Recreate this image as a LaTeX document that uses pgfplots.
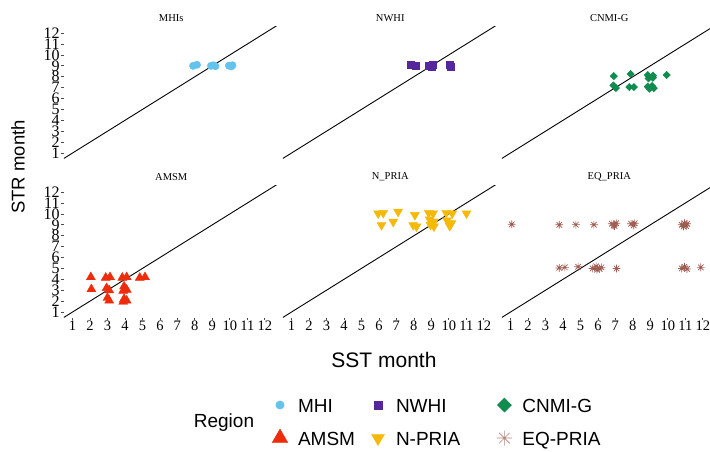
\documentclass[border=0pt]{standalone}
\usepackage{fontspec}
\setmainfont{Liberation Serif}
\newfontfamily\sansf{Liberation Sans}
\usepackage{pgfplots}
\pgfplotsset{compat=1.18}
\definecolor{mhi}{HTML}{64C3EC}
\definecolor{nwhi}{HTML}{55279A}
\definecolor{cnmi}{HTML}{118C4F}
\definecolor{amsm}{HTML}{EE2C0C}
\definecolor{npria}{HTML}{F5B90A}
\definecolor{eqpria}{HTML}{9E5B50}
\pgfdeclareplotmark{ast8}{%
 \pgfpathmoveto{\pgfqpoint{0pt}{\pgfplotmarksize}}\pgfpathlineto{\pgfqpoint{0pt}{-\pgfplotmarksize}}%
 \pgfpathmoveto{\pgfqpoint{\pgfplotmarksize}{0pt}}\pgfpathlineto{\pgfqpoint{-\pgfplotmarksize}{0pt}}%
 \pgfpathmoveto{\pgfqpoint{.7071\pgfplotmarksize}{.7071\pgfplotmarksize}}\pgfpathlineto{\pgfqpoint{-.7071\pgfplotmarksize}{-.7071\pgfplotmarksize}}%
 \pgfpathmoveto{\pgfqpoint{.7071\pgfplotmarksize}{-.7071\pgfplotmarksize}}\pgfpathlineto{\pgfqpoint{-.7071\pgfplotmarksize}{.7071\pgfplotmarksize}}%
 \pgfusepathqstroke}
\tikzset{ttl/.style={font=\fontsize{10.5}{10.5}\selectfont, yshift=8.5pt}}
\pgfplotsset{
 panel/.style={scale only axis, width=215pt, height=131.9pt,
  xmin=0.5, xmax=12.8, ymin=0.5, ymax=12.6,
  axis line style={draw=none}, anchor=south west,
  xtick=\empty, ytick=\empty, tick align=outside, major tick length=2.5pt,
  tick style={line width=0.7pt, black!70}, tick pos=left,
  /pgf/number format/assume math mode=true, clip mode=individual},
 leftcol/.style={ytick={1,...,12}, yticklabel style={font=\fontsize{16}{16}\selectfont, inner sep=1.5pt}},
 bottomrow/.style={xtick={1,...,12}, xticklabel style={font=\fontsize{14.5}{14.5}\selectfont, inner sep=1pt}},
 diag/.style={black, line width=0.9pt, no marks},
}
\begin{document}
\begin{tikzpicture}
\useasboundingbox (0,0) rectangle (710pt,451pt);
% ---------- MHIs
\begin{axis}[panel, leftcol, at={(63.75pt,292.5pt)}]
\addplot[diag] coordinates {(0,0) (13,13)};
\addplot[only marks, mark=*, mark size=3.7pt, mhi] coordinates {
(7.9,9.0) (8.12,9.1) (8.92,9.0) (9.05,9.05) (9.18,8.97) (9.95,9.02) (10.08,8.95) (10.15,9.05)};
\node[ttl] at (rel axis cs:0.5,1) {MHIs};
\end{axis}
% ---------- NWHI
\begin{axis}[panel, at={(282.75pt,292.5pt)}]
\addplot[diag] coordinates {(0,0) (13,13)};
\addplot[only marks, mark=square*, mark size=3.5pt, nwhi] coordinates {
(7.82,9.1) (8.1,9.0) (8.85,9.05) (9.1,9.1) (9.0,8.95) (10.03,9.1) (10.08,8.95)};
\node[ttl] at (rel axis cs:0.5,1) {NWHI};
\end{axis}
% ---------- CNMI-G
\begin{axis}[panel, at={(501.75pt,292.5pt)}]
\addplot[diag] coordinates {(0,0) (13,13)};
\addplot[only marks, mark=square*, mark size=2.6pt, mark options={rotate=45}, cnmi] coordinates {
(6.91,8.06) (7.87,8.25) (6.89,7.2) (7.03,6.96) (7.8,7.05) (8.06,7.05)
(8.85,8.15) (9.15,8.1) (8.9,7.85) (9.15,7.9) (8.85,7.1) (9.1,7.15) (8.95,6.9) (9.2,6.95) (9.93,8.16)};
\node[ttl] at (rel axis cs:0.5,1) {CNMI-G};
\end{axis}
% ---------- AMSM
\begin{axis}[panel, leftcol, bottomrow, at={(63.75pt,133.5pt)}]
\addplot[diag] coordinates {(0,0) (13,13)};
\addplot[only marks, mark=triangle*, mark size=5.2pt, amsm] coordinates {
(2.05,4.2) (2.08,3.1) (2.9,4.15) (3.15,4.2) (2.95,3.2) (3.1,3.0) (3.0,2.3) (3.1,2.05)
(3.85,4.15) (4.1,4.2) (3.95,3.35) (4.1,3.05) (3.9,2.95) (3.95,2.2) (4.1,2.05) (3.9,1.95)
(4.85,4.15) (5.15,4.2)};
\node[ttl] at (rel axis cs:0.5,1) {AMSM};
\end{axis}
% ---------- N_PRIA
\begin{axis}[panel, bottomrow, at={(282.75pt,133.5pt)}]
\addplot[diag] coordinates {(0,0) (13,13)};
\addplot[only marks, mark=triangle*, mark size=5.2pt, mark options={rotate=180}, npria] coordinates {
(5.96,10.05) (6.25,10.1) (6.15,8.98) (7.1,10.2) (6.82,9.28) (8.06,9.9) (7.96,8.98) (8.15,8.85)
(8.85,10.1) (9.1,10.05) (8.9,9.5) (9.15,9.3) (8.95,9.0) (9.15,8.85)
(9.85,10.1) (10.2,10.05) (9.9,9.4) (10.15,9.15) (10.05,8.9) (11.01,10.05)};
\node[ttl] at (rel axis cs:0.5,1) {N\_PRIA};
\end{axis}
% ---------- EQ_PRIA
\begin{axis}[panel, bottomrow, at={(501.75pt,133.5pt)}]
\addplot[diag] coordinates {(0,0) (13,13)};
\addplot[only marks, mark=ast8, mark size=3.9pt, mark options={line width=0.7pt}, eqpria] coordinates {
(1.07,9.05) (3.79,9.0) (4.74,9.02) (5.77,9.0) (6.8,9.1) (6.95,8.9) (7.05,9.15) (6.9,8.95)
(7.9,9.1) (8.05,8.95) (8.1,9.15) (10.8,9.0) (10.95,9.15) (11.05,8.9) (11.1,9.1) (10.9,8.85)
(3.79,5.05) (4.11,5.1) (4.87,5.15) (5.7,5.0) (5.9,5.2) (6.1,4.95) (6.2,5.1) (5.95,4.9)
(7.07,5.0) (10.8,5.0) (10.95,5.15) (11.1,4.95) (11.89,5.1)};
\node[ttl] at (rel axis cs:0.5,1) {EQ\_PRIA};
\end{axis}
% ---------- legend
\begin{axis}[hide axis, scale only axis, width=710pt, height=451pt, anchor=south west, at={(0pt,0pt)},
 xmin=0, xmax=1, ymin=0, ymax=1,
 legend columns=3, legend cell align=left,
 legend style={draw=none, fill=none, inner sep=0pt, outer sep=0pt,
   at={(0.3803,0.1341)}, anchor=north west,
   font=\sansf\fontsize{19}{19}\selectfont, column sep=0pt, row sep=6pt,
   nodes={inner xsep=3pt, inner ysep=1pt, text height=14pt, text depth=4pt},
   /tikz/column 2/.style={column sep=10pt},
   /tikz/column 4/.style={column sep=31pt}},
 legend image code/.code={\draw[#1] plot coordinates {(0pt,2.5pt)}; \path[draw=none,fill=none] (-10pt,-5pt) rectangle (15pt,17pt);}]
\addlegendimage{only marks, mark=*, mark size=4.2pt, mhi}
\addlegendentry{MHI}
\addlegendimage{only marks, mark=square*, mark size=4pt, nwhi}
\addlegendentry{NWHI}
\addlegendimage{only marks, mark=square*, mark size=5pt, mark options={rotate=45}, cnmi}
\addlegendentry{CNMI-G}
\addlegendimage{only marks, mark=triangle*, mark size=9pt, amsm}
\addlegendentry{AMSM}
\addlegendimage{only marks, mark=triangle*, mark size=7.5pt, mark options={rotate=180}, npria}
\addlegendentry{N-PRIA}
\addlegendimage{only marks, mark=ast8, mark size=7.5pt, mark options={line width=0.6pt}, eqpria!75}
\addlegendentry{EQ-PRIA}
\end{axis}
\node[font=\sansf\fontsize{19}{19}\selectfont] at (224pt,28pt) {Region};
\node[font=\sansf\fontsize{21}{21}\selectfont] at (384pt,91pt) {SST month};
\node[font=\sansf\fontsize{18.5}{18.5}\selectfont, rotate=90] at (18pt,284pt) {STR month};
\end{tikzpicture}
\end{document}
